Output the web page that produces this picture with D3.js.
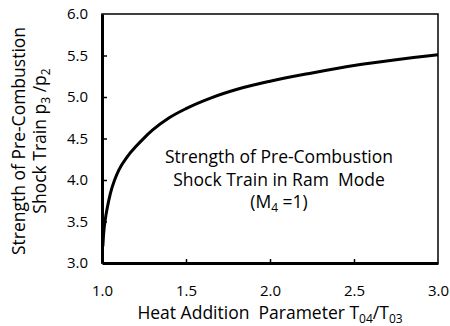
<!DOCTYPE html>
<html>
<head>
<meta charset="utf-8">
<script src="https://cdn.jsdelivr.net/npm/d3@7"></script>
<style>
  html, body { margin: 0; padding: 0; background: #fff; }
  svg { display: block; font-family: "Open Sans", Lato, sans-serif; }
  text { white-space: pre; }
</style>
</head>
<body>
<svg id="chart" width="450" height="326"></svg>
<script>
// Heat addition parameter T04/T03 and pre-combustion shock train strength p3/p2
const heatRatio = [1.005, 1.01, 1.02, 1.03, 1.05, 1.075, 1.1, 1.15, 1.2, 1.25, 1.3, 1.4, 1.5, 1.65, 1.8, 2.0, 2.25, 2.5, 2.75, 3.0];
const pressureRatio = [3.2, 3.36, 3.53, 3.65, 3.84, 4.0, 4.12, 4.28, 4.4, 4.505, 4.6, 4.75, 4.86, 4.99, 5.09, 5.19, 5.29, 5.38, 5.45, 5.51];
const xTicks = [1.0, 1.5, 2.0, 2.5, 3.0];
const yTicks = [3.0, 3.5, 4.0, 4.5, 5.0, 5.5, 6.0];

const svg = d3.select("#chart");
const m = { left: 102, top: 14, right: 438, bottom: 263 };

const x = d3.scaleLinear().domain([1, 3]).range([m.left, m.right]);
const y = d3.scaleLinear().domain([3, 6]).range([m.bottom, m.top]);

// plot frame (thin top/right)
svg.append("rect")
  .attr("x", m.left).attr("y", m.top)
  .attr("width", m.right - m.left).attr("height", m.bottom - m.top)
  .attr("fill", "none").attr("stroke", "#000").attr("stroke-width", 1.5);

// axes with inward ticks
const xAxis = svg.append("g").attr("transform", `translate(0,${m.bottom})`)
  .call(d3.axisBottom(x).tickValues(xTicks).tickSize(-4).tickSizeOuter(0).tickPadding(22).tickFormat(d3.format(".1f")));
const yAxis = svg.append("g").attr("transform", `translate(${m.left},0)`)
  .call(d3.axisLeft(y).tickValues(yTicks).tickSize(-5).tickSizeOuter(0).tickPadding(14).tickFormat(d3.format(".1f")));

[xAxis, yAxis].forEach(g => {
  g.select(".domain").attr("stroke", "#000").attr("stroke-width", 3);
  g.selectAll(".tick line").attr("stroke", "#000").attr("stroke-width", 1.5);
  g.selectAll(".tick text").attr("fill", "#000").style("font-size", "15px").style("font-family", "'Open Sans', sans-serif");
});
xAxis.selectAll(".tick line").filter(d => d === 1 || d === 3).remove();
yAxis.selectAll(".tick line").filter(d => d === 3 || d === 6).remove();

// curve
const pts = heatRatio.map((v, i) => [v, pressureRatio[i]]);
svg.append("path")
  .datum(pts)
  .attr("fill", "none")
  .attr("stroke", "#000")
  .attr("stroke-width", 3)
  .attr("d", d3.line().x(d => x(d[0])).y(d => y(d[1])).curve(d3.curveMonotoneX));

const FS = "17.5px", SUB = "12px";

// x axis title
const xt = svg.append("text")
  .attr("x", 270).attr("y", 319)
  .attr("text-anchor", "middle")
  .style("font-size", FS);
xt.append("tspan").text("Heat Addition  Parameter T");
xt.append("tspan").attr("dy", 4).style("font-size", SUB).text("04");
xt.append("tspan").attr("dy", -4).text("/T");
xt.append("tspan").attr("dy", 4).style("font-size", SUB).text("03");

// y axis title, two lines
const yt = svg.append("g").attr("transform", "translate(0,141) rotate(-90)");
yt.append("text").attr("x", 0).attr("y", 25)
  .attr("text-anchor", "middle").style("font-size", FS)
  .text("Strength of Pre-Combustion");
const yt2 = yt.append("text").attr("x", 0).attr("y", 46)
  .attr("text-anchor", "middle").style("font-size", FS);
yt2.append("tspan").text("Shock Train p");
yt2.append("tspan").attr("dy", 4).style("font-size", SUB).text("3");
yt2.append("tspan").attr("dy", -4).text(" /p");
yt2.append("tspan").attr("dy", 4).style("font-size", SUB).text("2");

// annotation
const ann = svg.append("g").style("font-size", FS).attr("text-anchor", "middle");
ann.append("text").attr("x", 279).attr("y", 163).text("Strength of Pre-Combustion");
ann.append("text").attr("x", 279).attr("y", 186).text("Shock Train in Ram  Mode");
const a3 = ann.append("text").attr("x", 279).attr("y", 208);
a3.append("tspan").text("(M");
a3.append("tspan").attr("dy", 4).style("font-size", SUB).text("4");
a3.append("tspan").attr("dy", -4).text(" =1)");
</script>
</body>
</html>
